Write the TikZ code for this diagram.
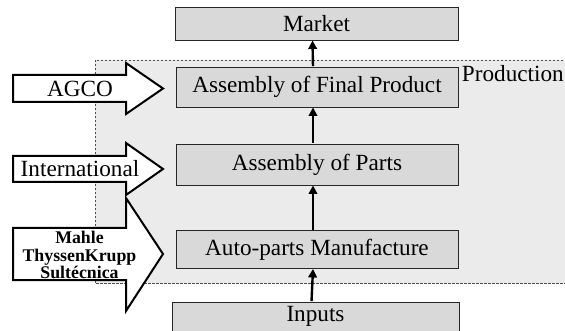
\documentclass[tikz,border=0pt]{standalone}
\usepackage{fontspec}
\setmainfont{Liberation Serif}
\usetikzlibrary{arrows.meta}
\definecolor{boxgray}{HTML}{D9D9D9}
\definecolor{reggray}{HTML}{EBEBEB}
\tikzset{
  box/.style={draw=black!85, fill=boxgray, line width=0.9pt, inner sep=0pt,
    font=\fontsize{23.2}{27}\selectfont},
  conn/.style={line width=2.4pt, -{Triangle[length=8.5pt,width=8.5pt]}, shorten <=0.5pt},
  bigarr/.style={draw=black, fill=white, line width=2pt, line join=miter},
  region/.style={draw=black!70, fill=reggray, line width=0.7pt, dash pattern=on 2.5pt off 1.5pt},
  lbl/.style={font=\fontsize{23.2}{27}\selectfont, inner sep=0pt},
  smalllbl/.style={font=\bfseries\fontsize{17.8}{17.5}\selectfont, inner sep=0pt, align=center}
}
\begin{document}
\begin{tikzpicture}[x=1pt,y=-1pt]
\useasboundingbox (0,0) rectangle (565,331);
\clip (0,0) rectangle (565,331);
% production region
\path[region] (95,60) rectangle (580,283);
\node[lbl, anchor=base east] (prod) at (564,82) {Production};
% boxes
\node[box, minimum width=283pt, minimum height=33pt] (market) at (316.5,23.5) {Market};
\node[box, minimum width=282pt, minimum height=40pt] (final) at (317,87) {Assembly of Final Product};
\node[box, minimum width=282pt, minimum height=41pt] (parts) at (317,164.5) {Assembly of Parts};
\node[box, minimum width=282pt, minimum height=38pt] (auto) at (317,249.5) {Auto-parts Manufacture};
\node[box, minimum width=287pt, minimum height=29pt] (inputs) at (315.5,316.5) {Inputs};
% connectors
\draw[conn] ([xshift=-4pt]final.north) -- ([xshift=-4pt]market.south);
\draw[conn] ([xshift=-4pt]parts.north) -- ([xshift=-4pt]final.south);
\draw[conn] ([xshift=-4pt]auto.north) -- ([xshift=-4pt]parts.south);
\draw[conn] ([xshift=-4pt]inputs.north) -- ([xshift=-4pt]auto.south);
% big arrows
\path[bigarr] (13,75) -- (126,75) -- (126,63) -- (163,88.5) -- (126,114) -- (126,102) -- (13,102) -- cycle;
\node[lbl] (agco) at (80,88.5) {AGCO};
\path[bigarr] (13,156) -- (126,156) -- (126,143) -- (163,169) -- (126,195) -- (126,182) -- (13,182) -- cycle;
\node[lbl] (intl) at (80,169) {International};
\path[bigarr] (13,228) -- (126,228) -- (126,198) -- (163,254) -- (126,311) -- (126,280) -- (13,280) -- cycle;
\node[smalllbl] (mahle) at (79.5,255) {Mahle\\ThyssenKrupp\\Sultécnica};
\end{tikzpicture}
\end{document}
